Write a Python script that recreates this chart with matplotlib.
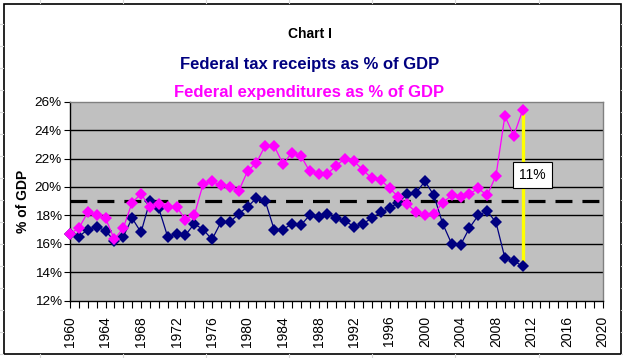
import matplotlib
matplotlib.use("Agg")
import matplotlib.pyplot as plt
from matplotlib.lines import Line2D
from matplotlib.patches import Rectangle

plt.rcParams["font.family"] = ["Liberation Sans", "DejaVu Sans"]

years = list(range(1960, 2012))

receipts = [16.7, 16.5, 17.0, 17.2, 16.9, 16.2, 16.5, 17.8, 16.8, 19.0,
            18.5, 16.5, 16.7, 16.6, 17.4, 17.0, 16.3, 17.5, 17.5, 18.1,
            18.6, 19.2, 19.0, 17.0, 17.0, 17.4, 17.3, 18.0, 17.9, 18.1,
            17.8, 17.6, 17.2, 17.4, 17.8, 18.2, 18.5, 18.9, 19.5, 19.6,
            20.4, 19.4, 17.4, 16.0, 15.9, 17.1, 18.0, 18.3, 17.5, 15.0,
            14.8, 14.4]

outlays = [16.7, 17.1, 18.2, 18.0, 17.8, 16.3, 17.1, 18.9, 19.5, 18.6,
           18.8, 18.6, 18.6, 17.7, 18.0, 20.2, 20.4, 20.1, 20.0, 19.7,
           21.1, 21.7, 22.9, 22.9, 21.6, 22.4, 22.2, 21.1, 20.9, 20.9,
           21.5, 22.0, 21.8, 21.2, 20.6, 20.5, 19.9, 19.3, 18.8, 18.2,
           18.0, 18.1, 18.9, 19.4, 19.3, 19.5, 19.9, 19.4, 20.8, 25.0,
           23.6, 25.4]

average = 19.0
gap_label = "11%"

x_ticks = list(range(1960, 2021, 4))
y_ticks = [12, 14, 16, 18, 20, 22, 24, 26]

W, H = 623, 358
fig = plt.figure(figsize=(W / 100, H / 100), dpi=100)

# faint spreadsheet grid outside the chart frame
grid_c = "#d8d8d8"
for gx in [40, 123, 206, 289, 372, 455, 539]:
    fig.add_artist(Line2D([gx / W, gx / W], [1 - 3 / H, 1], color=grid_c, lw=0.8))
    fig.add_artist(Line2D([gx / W, gx / W], [0, 4 / H], color=grid_c, lw=0.8))
for gy in range(24, 358, 22):
    fig.add_artist(Line2D([621 / W, 1], [1 - gy / H, 1 - gy / H], color=grid_c, lw=0.8))
    fig.add_artist(Line2D([0, 3 / W], [1 - gy / H, 1 - gy / H], color=grid_c, lw=0.8))

# chart border
fig.add_artist(Rectangle((3.5 / W, 4 / H), 617 / W, 350.5 / H, transform=fig.transFigure,
                         fill=False, edgecolor="black", lw=1.2))

ax = fig.add_axes([70 / W, 57.5 / H, 532.5 / W, 198.8 / H])
ax.set_facecolor("#C0C0C0")

for y in y_ticks[1:-1]:
    ax.axhline(y, color="black", lw=1.0, zorder=1)

dash_lw = 2.3
ax.axhline(average, color="black", lw=dash_lw, dashes=(12.2 / dash_lw, 7.2 / dash_lw), zorder=2)

ax.plot([years[-1], years[-1]], [receipts[-1], outlays[-1]], color="#FFFF00", lw=2.4, zorder=3)

ax.plot(years, receipts, color="#000080", lw=0.9, marker="D", markersize=6,
        markeredgewidth=0, zorder=4, clip_on=False)
ax.plot(years, outlays, color="#FF00FF", lw=0.9, marker="D", markersize=6,
        markeredgewidth=0, zorder=5, clip_on=False)

ax.text(2012.1, 20.83, gap_label, ha="center", va="center", fontsize=10, zorder=6,
        bbox=dict(boxstyle="square,pad=0.45", facecolor="white", edgecolor="black", lw=0.8))

ax.set_xlim(1960, 2020)
ax.set_ylim(12, 26)
ax.set_xticks(x_ticks)
ax.set_xticks(range(1960, 2021), minor=True)
ax.set_xticklabels([str(t) for t in x_ticks], rotation=90, fontsize=10)
ax.set_yticks(y_ticks)
ax.set_yticklabels([f"{t}%" for t in y_ticks], fontsize=9.7)
ax.tick_params(axis="x", which="both", length=5, width=0.8, direction="out", pad=6)
ax.tick_params(axis="y", length=4, width=0.8, direction="out", pad=2)

for side in ["top", "right"]:
    ax.spines[side].set_color("#808080")
    ax.spines[side].set_linewidth(1.0)
for side in ["left", "bottom"]:
    ax.spines[side].set_color("black")
    ax.spines[side].set_linewidth(1.0)

ax.set_ylabel("% of GDP", fontsize=10, fontweight="bold", labelpad=3)

fig.text(310 / W, 1 - 34 / H, "Chart I", ha="center", va="center", fontsize=10, fontweight="bold")
fig.text(310 / W, 1 - 64 / H, "Federal tax receipts as % of GDP", ha="center", va="center",
         fontsize=12, fontweight="bold", color="#000080")
fig.text(309 / W, 1 - 92 / H, "Federal expenditures as % of GDP", ha="center", va="center",
         fontsize=12, fontweight="bold", color="#FF00FF")

fig.savefig("out.png", dpi=100)
